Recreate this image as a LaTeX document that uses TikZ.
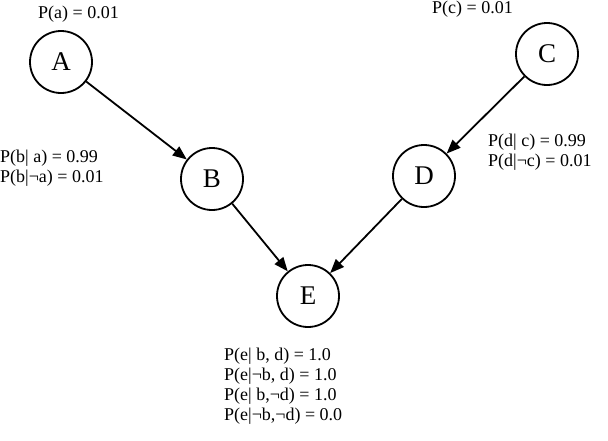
\documentclass[tikz,border=0pt]{standalone}
\usepackage{fontspec}
\setmainfont{Liberation Serif}
\usetikzlibrary{arrows.meta}
\begin{document}
\begin{tikzpicture}[x=1pt,y=-1pt,
  bn/.style={circle,draw,line width=1.8pt,minimum size=62pt,inner sep=0pt,font=\fontsize{27}{27}\selectfont},
  lbl/.style={font=\fontsize{18}{20}\selectfont,inner sep=0pt,align=left},
  edge/.style={line width=1.8pt,-{Triangle[length=14pt,width=11pt]}}]
\useasboundingbox (0,0) rectangle (608,440);
\node[bn] (A) at (61,62) {A};
\node[bn] (C) at (547,54) {C};
\node[bn] (B) at (212,179) {B};
\node[bn] (D) at (424,176) {D};
\node[bn] (E) at (308,296) {E};
\draw[edge] (A) -- (B);
\draw[edge] (C) -- (D);
\draw[edge] (B) -- (E);
\draw[edge] (D) -- (E);
\node[lbl,anchor=west] (la) at (38,14) {P(a) = 0.01};
\node[lbl,anchor=west] (lc) at (432,9) {P(c) = 0.01};
\node[lbl,anchor=west] (lb) at (0,168) {P(b| a) = 0.99\\P(b|¬a) = 0.01};
\node[lbl,anchor=west] (ld) at (488,152) {P(d| c) = 0.99\\P(d|¬c) = 0.01};
\node[lbl,anchor=west] (le) at (224,386) {P(e| b, d) = 1.0\\P(e|¬b, d) = 1.0\\P(e| b,¬d) = 1.0\\P(e|¬b,¬d) = 0.0};
\end{tikzpicture}
\end{document}
